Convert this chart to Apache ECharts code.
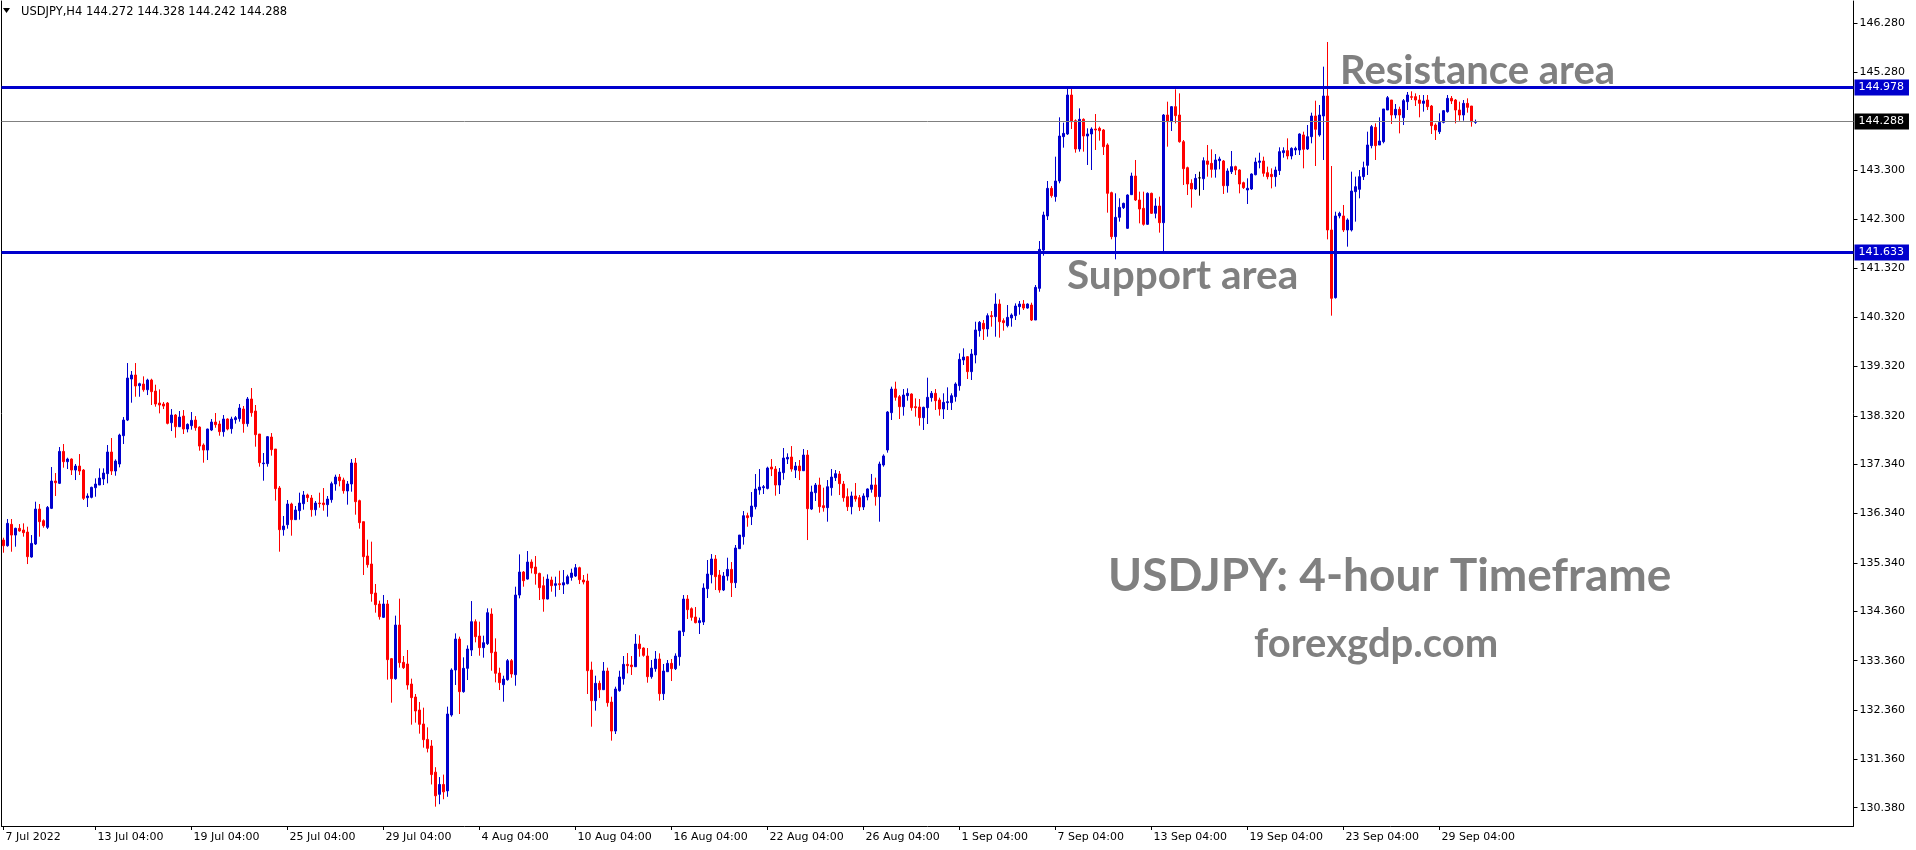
<!DOCTYPE html>
<html><head><meta charset="utf-8">
<script src="https://cdn.jsdelivr.net/npm/echarts@6/dist/echarts.min.js"></script>
<style>html,body{margin:0;padding:0;background:#fff}#c{width:1916px;height:850px}</style>
</head><body><div id="c"></div>
<script>
// ---- data ----
const symbolTitle = 'USDJPY,H4';
const lastBar = [144.272, 144.328, 144.242, 144.288]; // O H L C shown in header
// each row: [open, close, low, high], one row per H4 bar
const candles = [
[135.805,135.690,135.548,135.852],[135.690,136.143,135.670,136.231],[136.123,135.906,135.568,136.231],[135.906,136.042,135.670,136.055],
[136.042,135.988,135.974,136.129],[136.008,135.954,135.873,136.143],[135.967,135.468,135.318,136.075],[135.461,135.737,135.447,135.906],
[135.724,136.433,135.704,136.582],[136.433,136.177,135.873,136.535],[136.197,136.096,136.055,136.224],[136.062,136.467,136.028,136.494],
[136.447,137.001,136.433,137.285],[137.001,136.967,136.697,137.163],[136.954,137.602,136.940,137.690],[137.602,137.393,137.271,137.751],
[137.393,137.447,137.244,137.474],[137.447,137.224,137.123,137.460],[137.224,137.305,137.021,137.346],[137.305,137.204,137.123,137.548],
[137.224,136.650,136.616,137.244],[136.663,136.697,136.474,136.751],[136.670,136.873,136.650,136.886],[136.866,136.940,136.683,137.055],
[136.920,137.062,136.920,137.258],[137.042,137.163,136.920,137.258],[137.150,137.589,136.954,137.731],[137.589,137.204,137.123,137.873],
[137.204,137.406,137.109,137.440],[137.346,137.933,137.278,137.960],[137.920,138.237,137.751,138.298],[138.237,139.089,138.217,139.393],
[139.069,139.150,138.589,139.231],[139.150,138.927,138.710,139.393],[138.933,138.974,138.710,138.994],[138.967,138.852,138.812,139.123],
[138.852,139.048,138.744,139.075],[139.048,138.812,138.542,139.075],[138.825,138.562,138.508,138.954],[138.582,138.542,138.373,138.859],
[138.562,138.521,138.460,138.602],[138.582,138.170,138.150,138.602],[138.183,138.339,138.014,138.460],[138.339,138.102,137.879,138.359],
[138.102,138.298,138.096,138.420],[138.318,138.055,137.954,138.440],[138.055,138.150,137.988,138.170],[138.123,138.231,138.042,138.400],
[138.237,138.082,138.021,138.318],[138.096,137.710,137.616,138.109],[137.731,137.629,137.373,137.764],[137.629,138.055,137.427,138.062],
[138.035,138.197,138.014,138.258],[138.197,138.143,138.082,138.380],[138.157,138.001,137.920,138.224],[138.001,138.258,137.900,138.339],
[138.258,138.055,138.028,138.272],[138.062,138.258,137.961,138.305],[138.245,138.285,138.164,138.319],[138.265,138.481,138.204,138.562],
[138.461,138.164,137.981,138.522],[138.164,138.664,138.103,138.704],[138.664,138.386,138.305,138.886],[138.420,137.941,137.697,138.542],
[137.954,137.373,137.292,137.954],[137.353,137.366,137.008,137.569],[137.353,137.900,137.292,137.914],[137.893,137.637,137.515,137.974],
[137.650,136.846,136.603,137.650],[136.860,136.015,135.569,136.900],[136.015,136.089,135.893,136.292],[136.116,136.535,136.035,136.616],
[136.535,136.218,135.893,136.562],[136.218,136.414,136.218,136.495],[136.400,136.555,136.218,136.765],[136.542,136.718,136.420,136.799],
[136.718,136.664,136.576,136.745],[136.657,136.420,136.278,136.718],[136.420,136.555,136.299,136.596],[136.555,136.542,136.461,136.765],
[136.555,136.522,136.400,136.859],[136.522,136.636,136.278,136.697],[136.623,136.947,136.562,136.988],[136.941,137.082,136.805,137.130],
[137.082,137.008,136.893,137.143],[137.022,136.805,136.745,137.069],[136.799,136.941,136.522,137.001],[136.941,137.366,136.785,137.447],
[137.366,136.582,136.319,137.468],[136.603,136.157,136.035,136.623],[136.177,135.468,135.096,136.177],[135.481,135.305,135.245,135.812],
[135.319,134.718,134.555,135.772],[134.731,134.495,134.332,134.914],[134.508,134.251,134.191,134.576],[134.238,134.508,134.224,134.691],
[134.508,133.380,132.974,134.589],[133.400,132.994,132.508,133.414],[132.994,134.082,132.974,134.272],[134.082,133.319,133.218,134.616],
[133.326,133.218,133.191,133.454],[133.292,132.866,132.772,133.576],[132.886,132.610,132.062,132.995],[132.623,132.339,132.103,132.684],
[132.359,132.069,131.880,132.522],[132.076,131.758,131.596,132.407],[131.764,131.582,131.500,132.008],[131.630,131.050,130.850,131.750],
[131.100,130.620,130.400,131.200],[130.650,130.850,130.450,131.000],[130.850,130.700,130.550,131.050],[130.720,132.278,130.600,132.427],
[132.258,133.170,132.224,133.204],[133.170,133.798,132.866,133.913],[133.798,132.731,132.278,133.846],[132.731,133.204,132.710,133.427],
[133.204,133.596,132.967,133.670],[133.575,134.150,133.454,134.568],[134.150,133.846,133.731,134.197],[133.859,133.623,133.460,134.150],
[133.623,133.724,133.420,133.866],[133.704,134.332,133.677,134.420],[134.305,133.521,133.156,134.420],[133.535,133.103,132.920,133.812],
[133.109,132.913,132.764,133.217],[132.873,132.987,132.528,133.055],[132.974,133.359,132.954,133.393],[133.359,133.089,133.014,133.393],
[133.075,134.690,132.852,134.859],[134.690,135.156,134.623,135.514],[135.156,134.981,134.859,135.177],[135.014,135.359,135.001,135.582],
[135.359,135.237,135.129,135.413],[135.258,135.123,134.900,135.481],[135.129,134.839,134.589,135.143],[134.879,134.609,134.352,135.062],
[134.609,135.014,134.602,135.109],[134.994,134.879,134.758,135.062],[134.886,134.920,134.656,135.062],[134.920,134.900,134.792,135.183],
[134.893,134.940,134.711,135.197],[134.920,135.062,134.906,135.102],[135.048,135.136,134.981,135.224],[135.075,135.244,135.055,135.319],
[135.244,135.001,134.913,135.264],[134.994,134.954,134.906,135.096],[134.974,133.156,132.684,135.123],[133.170,132.548,132.021,133.339],
[132.548,132.900,132.346,133.055],[132.900,132.771,132.602,132.954],[132.771,133.150,132.764,133.332],[133.150,132.508,132.427,133.217],
[132.521,131.933,131.738,132.629],[131.933,132.785,131.873,132.832],[132.751,133.028,132.731,133.156],[132.994,133.285,132.873,133.454],
[133.285,133.258,133.102,133.514],[133.271,133.238,133.069,133.454],[133.237,133.697,133.237,133.900],[133.697,133.602,133.440,133.873],
[133.616,133.467,133.440,133.629],[133.454,133.035,132.913,133.616],[133.035,133.210,132.994,133.373],[133.197,133.393,133.136,133.555],
[133.393,132.690,132.548,133.508],[132.690,133.150,132.562,133.292],[133.136,133.305,133.136,133.373],[133.305,133.197,132.947,133.393],
[133.197,133.454,133.170,133.508],[133.440,133.961,133.258,133.961],[133.947,134.609,133.859,134.690],[134.609,134.393,134.204,134.690],
[134.413,134.238,134.170,134.440],[134.244,134.130,134.116,134.447],[134.130,134.170,133.900,134.231],[134.143,134.832,134.082,134.927],
[134.819,135.116,134.629,135.400],[135.102,135.420,134.927,135.521],[135.420,135.062,134.792,135.501],[135.096,134.792,134.737,135.197],
[134.792,135.075,134.771,135.156],[135.075,135.210,134.981,135.447],[135.210,134.940,134.650,135.359],[134.940,135.643,134.832,135.704],
[135.629,135.906,135.623,135.906],[135.873,136.298,135.711,136.393],[136.298,136.258,136.075,136.359],[136.278,136.494,136.109,136.778],
[136.481,136.839,136.427,137.143],[136.819,136.879,136.724,137.244],[136.866,136.886,136.738,136.920],[136.852,137.265,136.832,137.292],
[137.285,137.244,137.102,137.447],[137.244,136.920,136.704,137.305],[136.920,137.183,136.738,137.265],[137.170,137.467,137.028,137.670],
[137.447,137.481,137.346,137.562],[137.488,137.244,137.190,137.710],[137.224,137.305,137.062,137.386],[137.305,137.210,137.021,137.427],
[137.210,137.528,137.204,137.650],[137.528,136.440,135.805,137.629],[136.433,136.778,136.413,136.906],[136.765,136.920,136.596,136.961],
[136.920,136.481,136.359,137.069],[136.501,136.461,136.380,136.866],[136.461,136.886,136.177,137.021],[136.866,137.082,136.704,137.244],
[137.069,137.150,137.001,137.224],[137.143,136.947,136.717,137.204],[136.940,136.663,136.582,137.001],[136.684,136.481,136.394,136.853],
[136.481,136.698,136.326,136.786],[136.698,136.637,136.583,136.961],[136.664,136.475,136.394,136.718],[136.475,136.698,136.414,136.752],
[136.677,136.840,136.610,136.853],[136.833,136.921,136.765,137.144],[136.921,136.684,136.502,137.069],[136.684,137.346,136.177,137.394],
[137.326,137.509,137.292,137.542],[137.630,138.400,137.576,138.420],[138.387,138.866,138.238,138.914],[138.866,138.698,138.630,139.015],
[138.711,138.508,138.258,138.745],[138.508,138.745,138.326,138.866],[138.732,138.779,138.630,138.880],[138.765,138.488,138.427,138.779],
[138.508,138.488,138.306,138.677],[138.501,138.285,138.123,138.664],[138.285,138.495,138.036,138.508],[138.488,138.698,138.157,139.096],
[138.691,138.779,138.610,138.826],[138.779,138.630,138.441,138.866],[138.644,138.461,138.326,138.691],[138.461,138.596,138.258,138.779],
[138.590,138.610,138.441,138.900],[138.590,138.731,138.441,138.779],[138.711,138.968,138.610,139.001],[138.934,139.468,138.833,139.589],
[139.454,139.515,139.353,139.691],[139.522,139.218,139.069,139.535],[139.218,139.576,139.049,139.677],[139.556,140.063,139.387,140.231],
[140.049,140.218,139.927,140.245],[140.198,140.083,139.860,140.265],[140.083,140.353,139.927,140.400],[140.353,140.333,140.130,140.447],
[140.333,140.589,139.927,140.806],[140.589,140.231,139.907,140.684],[140.252,140.211,140.049,140.299],[140.150,140.319,140.116,140.569],
[140.306,140.367,140.130,140.400],[140.353,140.549,140.265,140.603],[140.536,140.589,140.373,140.650],[140.589,140.508,140.468,140.670],
[140.508,140.589,140.495,140.603],[140.569,140.265,140.245,140.616],[140.265,140.927,140.265,140.974],[140.907,141.698,140.839,141.866],
[141.684,142.393,141.569,142.461],[142.373,142.934,142.292,143.083],[142.934,142.786,142.745,142.981],[142.766,143.083,142.664,143.576],
[143.083,143.995,143.036,144.374],[143.982,144.049,143.759,144.266],[144.036,144.826,144.016,144.961],[144.826,144.286,144.137,144.961],
[144.306,143.732,143.657,144.333],[143.732,144.333,143.678,144.556],[144.333,143.995,143.678,144.353],[143.995,144.036,143.408,144.151],
[144.036,144.137,143.306,144.171],[144.137,144.117,143.712,144.441],[144.151,144.103,143.901,144.185],[144.117,143.779,143.610,144.137],
[143.813,142.833,142.441,143.847],[142.847,141.955,141.901,142.867],[141.955,142.347,141.495,142.833],[142.347,142.549,142.259,142.732],
[142.542,142.630,142.515,142.644],[142.124,142.799,142.110,142.813],[142.806,143.184,142.799,143.252],[143.184,142.698,142.678,143.509],
[142.698,142.515,142.225,142.867],[142.529,142.205,142.178,142.867],[142.205,142.833,142.191,142.853],[142.833,142.428,142.414,142.847],
[142.428,142.576,142.326,142.732],[142.576,142.238,142.036,142.765],[142.238,144.421,141.651,144.441],[144.421,144.286,143.779,144.691],
[144.286,144.590,144.097,144.603],[144.590,144.407,144.252,144.941],[144.421,143.880,143.860,144.860],[143.880,143.333,143.002,143.914],
[143.353,143.022,142.799,143.374],[143.036,142.921,142.543,143.117],[142.921,143.137,142.901,143.225],[143.147,143.147,142.786,143.272],
[143.130,143.495,142.901,143.563],[143.489,143.421,143.171,143.813],[143.441,143.320,143.151,143.725],[143.320,143.509,143.151,143.630],
[143.495,143.529,143.320,143.576],[143.489,142.988,142.820,143.509],[142.988,143.286,142.847,143.340],[143.272,143.374,143.225,143.691],
[143.374,143.306,143.205,143.394],[143.306,143.022,142.833,143.320],[143.049,142.948,142.921,143.070],[142.901,142.935,142.617,143.137],
[142.921,143.225,142.901,143.238],[143.211,143.468,143.198,143.556],[143.462,143.489,143.340,143.657],[143.489,143.239,143.171,143.576],
[143.252,143.171,143.117,143.374],[143.218,143.171,142.934,143.340],[143.171,143.306,142.968,143.374],[143.293,143.678,143.205,143.766],
[143.657,143.698,143.556,143.766],[143.698,143.590,143.522,143.948],[143.590,143.745,143.522,143.766],[143.711,143.745,143.610,143.779],
[143.711,144.036,143.610,144.049],[144.016,143.725,143.340,144.083],[143.732,143.982,143.711,144.218],[143.982,144.401,143.847,144.468],
[144.401,144.131,143.387,144.711],[144.016,144.421,143.982,144.624],[144.401,144.806,143.509,145.401],[144.806,142.090,141.900,145.901],
[142.090,140.705,140.353,143.387],[140.718,142.374,140.700,142.461],[142.374,142.428,142.326,142.461],[142.374,142.090,142.050,142.597],
[142.090,142.293,141.752,142.326],[142.090,142.880,142.060,143.272],[142.867,142.968,142.259,143.171],[142.914,143.171,142.732,143.306],
[143.171,143.353,143.103,143.475],[143.400,143.813,143.205,144.083],[143.800,144.185,143.745,144.218],[144.171,143.800,143.509,144.252],
[143.813,143.894,143.813,144.374],[143.880,144.543,143.847,144.543],[144.522,144.772,144.522,144.806],[144.725,144.421,144.239,144.725],
[144.421,144.536,144.353,144.644],[144.536,144.421,144.049,144.590],[144.367,144.712,144.218,144.745],[144.691,144.826,144.522,144.887],
[144.793,144.779,144.725,144.901],[144.793,144.725,144.603,144.860],[144.725,144.657,144.374,144.826],[144.657,144.705,144.489,144.826],
[144.725,144.590,144.522,144.826],[144.603,144.205,144.036,144.624],[144.218,144.117,143.914,144.252],[144.083,144.272,144.036,144.455],
[144.272,144.509,144.252,144.522],[144.489,144.759,144.468,144.826],[144.759,144.705,144.644,144.806],[144.725,144.522,144.252,144.745],
[144.522,144.421,144.306,144.691],[144.421,144.657,144.306,144.725],[144.657,144.576,144.468,144.759],[144.603,144.286,144.185,144.603],
[144.272,144.288,144.242,144.328]
];
const timeLabelIdx  = [0, 23, 47, 71, 95, 119, 143, 167, 191, 215, 239, 263, 287, 311, 335, 359];
const timeLabelText = ['7 Jul 2022','13 Jul 04:00','19 Jul 04:00','25 Jul 04:00','29 Jul 04:00','4 Aug 04:00',
  '10 Aug 04:00','16 Aug 04:00','22 Aug 04:00','26 Aug 04:00','1 Sep 04:00','7 Sep 04:00','13 Sep 04:00',
  '19 Sep 04:00','23 Sep 04:00','29 Sep 04:00'];
const priceTicks = [146.280,145.280,143.300,142.300,141.320,140.320,139.320,138.320,137.340,136.340,135.340,134.360,133.360,132.360,131.360,130.380];
const resistanceLevel = 144.978;
const supportLevel = 141.633;
const bidLevel = lastBar[3];
const slotCount = 463;   // bar slots visible in the window
const priceMin = 130.008, priceMax = 146.732;

// ---- chart ----
const categories = Array.from({length: slotCount}, (_, i) => String(i));
const labelMap = {};
timeLabelIdx.forEach((k, j) => { labelMap[k] = timeLabelText[j]; });
const showIdx = (idx) => labelMap[idx] !== undefined;

const BLUE = '#0000CD', RED = '#FF0000', GRAY = '#808080';
const axisFont = 'DejaVu Sans';

const chart = echarts.init(document.getElementById('c'), null, {renderer: 'canvas'});
const lvlLabel = (bg) => ({
  show: true, position: 'end', distance: 1,
  formatter: p => Number(p.value).toFixed(3),
  color: '#fff', backgroundColor: bg, padding: [2, 5, 1, 4],
  fontFamily: axisFont, fontSize: 11, lineHeight: 13
});

chart.setOption({
  animation: false,
  backgroundColor: '#ffffff',
  grid: {left: 1.5, right: 62.5, top: 1, bottom: 24, containLabel: false},
  xAxis: {
    type: 'category', data: categories, boundaryGap: true,
    axisLine: {show: true, lineStyle: {color: '#000', width: 1}},
    axisTick: {show: true, interval: showIdx, alignWithLabel: true, length: 4, lineStyle: {color: '#000'}},
    axisLabel: {show: true, interval: showIdx, formatter: (v, i) => labelMap[i] || '', align: 'left',
      margin: 6, color: '#000', fontFamily: axisFont, fontSize: 11, padding: [0, 0, 0, 2]},
    splitLine: {show: false}
  },
  yAxis: [{
    type: 'value', position: 'right', min: priceMin, max: priceMax,
    axisLine: {show: true, lineStyle: {color: '#000', width: 1}},
    axisTick: {show: true, customValues: priceTicks, length: 4, lineStyle: {color: '#000'}},
    axisLabel: {show: true, customValues: priceTicks, formatter: v => Number(v).toFixed(3),
      margin: 6, color: '#000', fontFamily: axisFont, fontSize: 11},
    splitLine: {show: false}
  }, {
    type: 'value', position: 'left', min: priceMin, max: priceMax,
    axisLine: {show: true, onZero: false, lineStyle: {color: '#000', width: 1}},
    axisTick: {show: false}, axisLabel: {show: false}, splitLine: {show: false}
  }],
  series: [{
    type: 'candlestick', data: candles, barWidth: 2, yAxisIndex: 0,
    itemStyle: {color: BLUE, color0: RED, borderColor: BLUE, borderColor0: RED, borderColorDoji: '#000', borderWidth: 1},
    emphasis: {disabled: true},
    markLine: {
      silent: true, symbol: ['none', 'none'], animation: false, precision: 3,
      data: [
        {yAxis: bidLevel, lineStyle: {color: GRAY, width: 1, type: 'solid'}, label: lvlLabel('#000000')},
        {yAxis: resistanceLevel, lineStyle: {color: BLUE, width: 3, type: 'solid'}, label: lvlLabel(BLUE)},
        {yAxis: supportLevel, lineStyle: {color: BLUE, width: 3, type: 'solid'}, label: lvlLabel(BLUE)}
      ]
    }
  }],
  graphic: [
    {type: 'polygon', shape: {points: [[3, 8], [10, 8], [6.5, 13]]}, style: {fill: '#000'}},
    {type: 'text', x: 21, y: 12, style: {text: symbolTitle + ' ' + lastBar.map(v => v.toFixed(3)).join(' '),
      fill: '#000', font: '11.5px "DejaVu Sans"', verticalAlign: 'middle', align: 'left'}},
    {type: 'text', x: 1340, y: 71, style: {text: 'Resistance area', fill: GRAY, font: 'bold 40px Lato', verticalAlign: 'middle'}},
    {type: 'text', x: 1067, y: 276, style: {text: 'Support area', fill: GRAY, font: 'bold 40.5px Lato', verticalAlign: 'middle'}},
    {type: 'text', x: 1108, y: 576, style: {text: 'USDJPY: 4-hour Timeframe', fill: GRAY, font: 'bold 46px Lato', verticalAlign: 'middle'}},
    {type: 'text', x: 1254, y: 644, style: {text: 'forexgdp.com', fill: GRAY, font: 'bold 40px Lato', verticalAlign: 'middle'}}
  ]
});
</script>
</body></html>
